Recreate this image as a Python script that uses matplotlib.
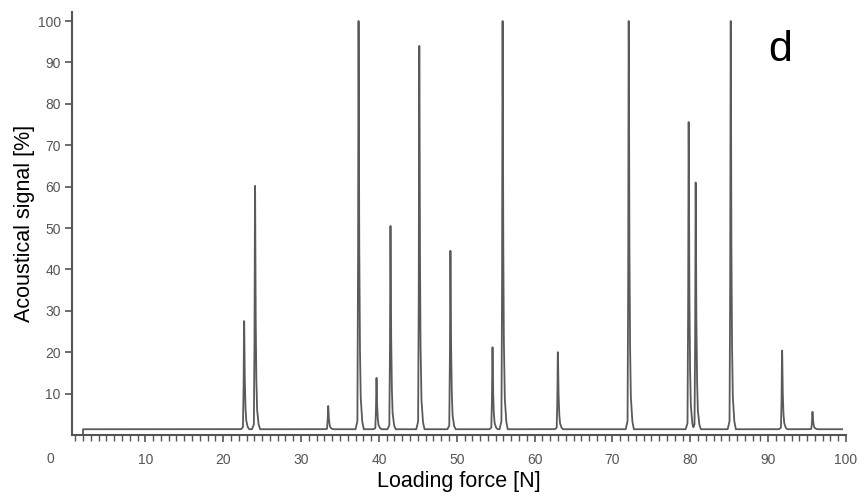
import numpy as np
import matplotlib.pyplot as plt
from matplotlib.ticker import MultipleLocator

plt.rcParams['font.family'] = ['Liberation Sans', 'DejaVu Sans']

# Peaks of the acoustic emission trace: loading force [N] and signal height [%]
peak_force = [22.7, 24.1, 33.5, 37.4, 39.7, 41.5, 45.2, 49.2, 54.6, 55.9,
              63.0, 72.1, 79.8, 80.7, 85.2, 91.8, 95.7]
peak_height = [27.5, 60.2, 7.0, 100.0, 13.8, 50.5, 94.0, 44.5, 21.2, 100.0,
               20.0, 100.0, 75.6, 61.0, 100.0, 20.4, 5.6]
baseline = 1.4
start_force = 2.0
end_force = 99.5

y_ticks = [10, 20, 30, 40, 50, 60, 70, 80, 90, 100]
x_ticks = [10, 20, 30, 40, 50, 60, 70, 80, 90, 100]

# shape of a single burst (relative to its peak)
shape_dx = [-0.40, -0.16, -0.08, -0.02, 0.0, 0.03, 0.08, 0.15, 0.26, 0.45, 0.65]
shape_frac = [0.0, 0.02, 0.35, 1.0, 1.0, 0.75, 0.45, 0.22, 0.08, 0.02, 0.0]

x = np.linspace(start_force, end_force, 4000)
for pf in peak_force:
    x = np.concatenate([x, pf + np.array(shape_dx)])
x = np.unique(x)
y = np.full_like(x, baseline)
for pf, ph in zip(peak_force, peak_height):
    prof = np.interp(x, pf + np.array(shape_dx), shape_frac, left=0, right=0)
    y = np.maximum(y, baseline + prof * (ph - baseline))
# trace starts from zero
x = np.concatenate([[start_force], x])
y = np.concatenate([[0.0], y])

fig = plt.figure(figsize=(8.61, 4.97), dpi=100)
ax = fig.add_axes([0.0836, 0.1247, 0.899, 0.8512])
ax.plot(x, y, color='#5a5a5a', lw=1.3)

ax.set_xlim(0.58, 100)
ax.set_ylim(0, 102.2)
ax.set_xticks(x_ticks)
ax.set_yticks(y_ticks)
ax.xaxis.set_minor_locator(MultipleLocator(1))
for s in ['top', 'right']:
    ax.spines[s].set_visible(False)
for s in ['left', 'bottom']:
    ax.spines[s].set_color('#555555')
    ax.spines[s].set_linewidth(1.5)
ax.tick_params(axis='both', which='major', colors='#555555', labelsize=10,
               length=5, width=1.2)
ax.tick_params(axis='x', which='minor', colors='#555555', length=4, width=1)
ax.tick_params(axis='x', pad=8)
ax.tick_params(axis='y', pad=3)

ax.text(-2.25, -4.0, '0', ha='center', va='top', fontsize=10, color='#555555',
        clip_on=False)

ax.set_xlabel('Loading force [N]', fontsize=15.5, labelpad=3)
ax.set_ylabel('Acoustical signal [%]', fontsize=15.5, labelpad=2)
ax.text(91.5, 93, 'd', fontsize=31, ha='center', va='center', color='black')

fig.savefig('out.png', dpi=100)
